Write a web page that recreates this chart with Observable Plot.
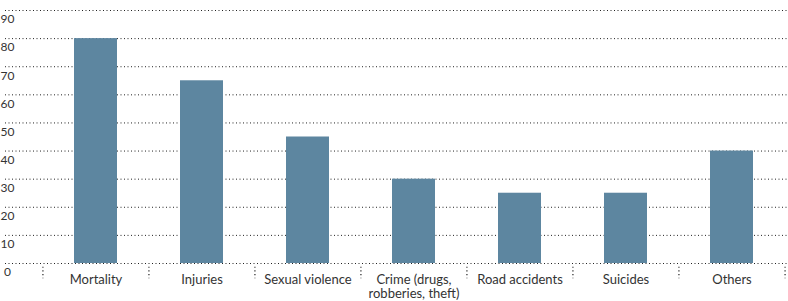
<!DOCTYPE html>
<html>
<head>
<meta charset="utf-8">
<script src="https://cdn.jsdelivr.net/npm/d3@7"></script>
<script src="https://cdn.jsdelivr.net/npm/@observablehq/plot@0.6"></script>
<style>
  html, body { margin: 0; padding: 0; background: #fff; }
  svg { font-family: Lato, "Open Sans", sans-serif; }
</style>
</head>
<body>
<div id="chart"></div>
<script>
const categories = ["Mortality", "Injuries", "Sexual violence", "Crime (drugs,\nrobberies, theft)", "Road accidents", "Suicides", "Others"];
const values = [80, 65, 45, 30, 25, 25, 40];
const yTicks = [0, 10, 20, 30, 40, 50, 60, 70, 80, 90];

const data = categories.map((c, i) => ({category: c, value: values[i]}));
const step = (786 - 43) / categories.length;

const chart = Plot.plot({
  width: 788,
  height: 301,
  marginTop: 10,
  marginBottom: 38,
  marginLeft: 5,
  marginRight: 1,
  style: {fontFamily: "Lato, 'Open Sans', sans-serif", color: "#333", background: "#fff"},
  x: {domain: categories, range: [42, 785], paddingInner: 0.595, paddingOuter: 0.2975, label: null},
  y: {domain: [0, 90], label: null},
  marks: [
    Plot.ruleY(yTicks, {stroke: "#222", strokeWidth: 1, strokeDasharray: "1,2.5"}),
    Plot.barY(data, {x: "category", y: "value", fill: "#5d86a0"}),
    Plot.ruleX(categories, {x: d => d, y1: -1.3, y2: -5.4, dx: -step / 2, stroke: "#222", strokeWidth: 1.2, strokeDasharray: "1.2,2.5"}),
    Plot.ruleX([categories[categories.length - 1]], {x: d => d, y1: -1.3, y2: -5.4, dx: step / 2, stroke: "#222", strokeWidth: 1.2, strokeDasharray: "1.2,2.5"}),
    Plot.axisY(yTicks, {anchor: "left", tickSize: 0, textAnchor: "middle", dx: 11, dy: 9, fontSize: 12, fill: "#333", style: {fontVariantNumeric: "oldstyle-nums"}}),
    Plot.axisX({anchor: "bottom", tickSize: 0, tickPadding: 10, fontSize: 13, lineHeight: 1.12, fill: "#333"})
  ]
});
document.getElementById("chart").appendChild(chart);
</script>
</body>
</html>
